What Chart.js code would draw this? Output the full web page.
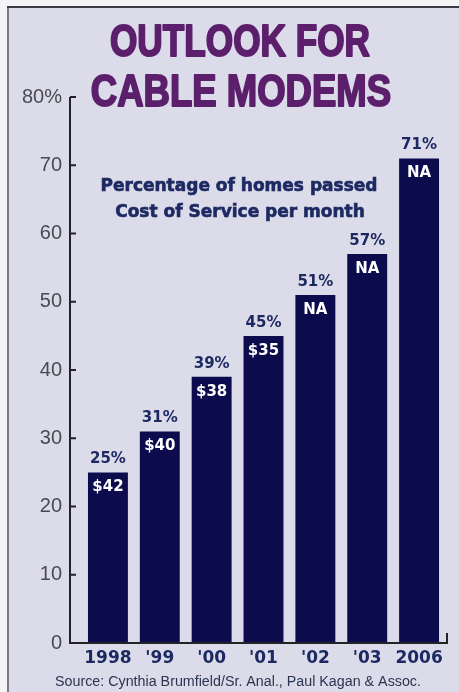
<!DOCTYPE html>
<html>
<head>
<meta charset="utf-8">
<script src="https://cdn.jsdelivr.net/npm/chart.js@4"></script>
<style>
  html, body { margin: 0; padding: 0; background: #ffffff; }
  #cable_Chart { display: block; }
</style>
</head>
<body>
<canvas id="cable_Chart" width="459" height="692"></canvas>
<script>
const years = ['1998', "'99", "'00", "'01", "'02", "'03", '2006'];
const homes_passed = [25, 31, 39, 45, 51, 57, 71];
const pct_labels = ['25%', '31%', '39%', '45%', '51%', '57%', '71%'];
const cost_labels = ['$42', '$40', '$38', '$35', 'NA', 'NA', 'NA'];
const y_ticks = [0, 10, 20, 30, 40, 50, 60, 70, 80];
const title_lines = ['OUTLOOK FOR', 'CABLE MODEMS'];
const subtitle_lines = ['Percentage of homes passed', 'Cost of Service per month'];
const source_text = 'Source: Cynthia Brumfield/Sr. Anal., Paul Kagan & Assoc.';

const bg_color = '#dcdbea';
const bar_color = '#0b0b4e';
const navy_text = '#1d2a62';

// paper background, frame, title and the hand-drawn axis lines
const backdrop = {
    id: 'backdrop',
    beforeDraw(chart) {
        const ctx = chart.ctx;
        ctx.save();
        ctx.fillStyle = '#f4f4f6';
        ctx.fillRect(0, 0, chart.width, chart.height);
        ctx.fillStyle = bg_color;
        ctx.fillRect(9, 8, chart.width - 9, chart.height - 8);
        ctx.fillStyle = '#7a7a80';
        ctx.fillRect(7, 7, 2, chart.height - 7);
        ctx.fillStyle = '#3a3a44';
        ctx.fillRect(7, 6, chart.width - 7, 2);

        // title, narrowed and thickened
        ctx.fillStyle = '#5b1f6c';
        ctx.strokeStyle = '#5b1f6c';
        ctx.lineWidth = 2;
        ctx.lineJoin = 'round';
        ctx.textAlign = 'center';
        ctx.textBaseline = 'alphabetic';
        ctx.font = 'bold 44px "Liberation Sans", Arial, sans-serif';
        const title_y = [56, 106];
        const title_x = [240, 241];
        const title_sx = [0.8, 0.83];
        title_lines.forEach((line, i) => {
            ctx.save();
            ctx.translate(title_x[i], title_y[i]);
            ctx.scale(title_sx[i], 1);
            ctx.fillText(line, 0, 0);
            ctx.strokeText(line, 0, 0);
            ctx.restore();
        });
        ctx.restore();
    },
    afterDraw(chart) {
        const ctx = chart.ctx;
        const y = chart.scales.y;
        const area = chart.chartArea;
        const axis_x = 70;
        const zero = y.getPixelForValue(0);
        ctx.save();
        ctx.strokeStyle = '#222228';
        ctx.lineWidth = 2;
        ctx.beginPath();
        ctx.moveTo(axis_x, y.getPixelForValue(80));
        ctx.lineTo(axis_x, zero);
        ctx.lineTo(area.right + 2, zero);
        ctx.lineTo(area.right + 2, zero - 10);
        ctx.stroke();
        y_ticks.forEach(v => {
            const py = y.getPixelForValue(v);
            ctx.beginPath();
            ctx.moveTo(axis_x, py);
            ctx.lineTo(axis_x + 6, py);
            ctx.stroke();
        });

        ctx.fillStyle = navy_text;
        ctx.strokeStyle = navy_text;
        ctx.lineWidth = 0.6;
        ctx.textAlign = 'center';
        ctx.textBaseline = 'middle';
        ctx.font = 'bold 17px "DejaVu Sans", sans-serif';
        ctx.fillText(subtitle_lines[0], 239, 187);
        ctx.strokeText(subtitle_lines[0], 239, 187);
        ctx.fillText(subtitle_lines[1], 240, 213);
        ctx.strokeText(subtitle_lines[1], 240, 213);

        ctx.fillStyle = '#2b3450';
        ctx.font = '14px "Liberation Sans", Arial, sans-serif';
        ctx.translate(238, 682);
        ctx.scale(1.02, 1);
        ctx.fillText(source_text, 0, 0);
        ctx.restore();
    }
};

// percentage above each bar, cost inside the top of it
const bar_labels = {
    id: 'bar_labels',
    afterDatasetsDraw(chart) {
        const ctx = chart.ctx;
        const meta = chart.getDatasetMeta(0);
        ctx.save();
        ctx.textAlign = 'center';
        ctx.textBaseline = 'middle';
        ctx.font = 'bold 15px "DejaVu Sans", sans-serif';
        meta.data.forEach((bar, i) => {
            ctx.fillStyle = navy_text;
            ctx.fillText(pct_labels[i], bar.x, bar.y - 13);
            ctx.fillStyle = '#ffffff';
            ctx.fillText(cost_labels[i], bar.x, bar.y + 15);
        });
        ctx.restore();
    }
};

const chart_canvas = document.querySelector('#cable_Chart');
let chartData = {
    labels: years,
    datasets: [{
        label: 'Percentage of homes passed',
        data: homes_passed,
        backgroundColor: bar_color,
        borderWidth: 0,
        barPercentage: 0.77,
        categoryPercentage: 1
    }]
};

let options = {
    responsive: false,
    animation: false,
    layout: { padding: { left: 0, right: 14, top: 97, bottom: 0 } },
    plugins: {
        legend: { display: false },
        tooltip: { enabled: false }
    },
    scales: {
        x: {
            grid: { display: false, drawTicks: false },
            border: { display: false },
            ticks: {
                color: navy_text,
                padding: 5,
                maxRotation: 0,
                minRotation: 0,
                autoSkip: false,
                font: { family: '"DejaVu Sans", sans-serif', size: 17, weight: 'bold' }
            },
            afterFit(scale) { scale.height = 49; }
        },
        y: {
            min: 0,
            max: 80,
            grid: { display: false, drawTicks: false },
            border: { display: false },
            afterBuildTicks(scale) { scale.ticks = y_ticks.map(v => ({ value: v })); },
            ticks: {
                color: '#4a4a52',
                padding: 20,
                font: { family: '"Liberation Sans", Arial, sans-serif', size: 20 },
                callback: (value) => value === 80 ? '80%' : String(value)
            },
            afterFit(scale) { scale.width = 82; }
        }
    }
};

let chart = new Chart(chart_canvas.getContext('2d'), {
    type: 'bar',
    data: chartData,
    options: options,
    plugins: [backdrop, bar_labels]
});
</script>
</body>
</html>
